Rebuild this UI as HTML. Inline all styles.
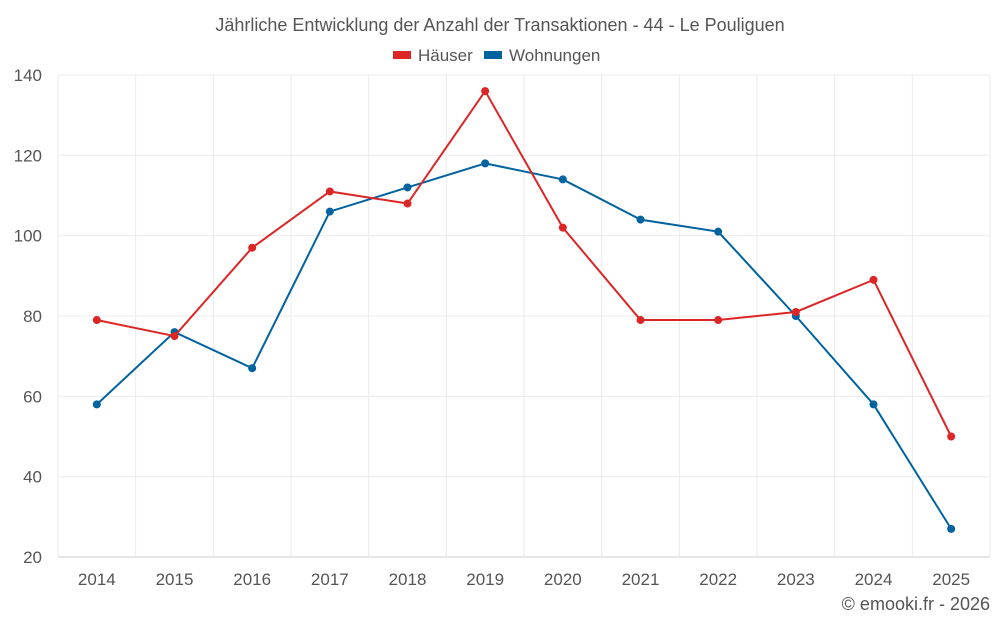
<!DOCTYPE html>
<html><head><meta charset="utf-8"><style>
html,body{margin:0;padding:0;background:#fff;}
svg{display:block;font-family:"Liberation Sans",sans-serif;}
</style></head><body>
<svg id="chart" width="1000" height="625">
<text x="500" y="31" text-anchor="middle" font-size="18" fill="#555">Jährliche Entwicklung der Anzahl der Transaktionen - 44 - Le Pouliguen</text>
<g>
<g><rect x="393" y="51" width="18" height="8" fill="#dc2626"/><text x="418" y="61" font-size="17" fill="#555">Häuser</text></g>
<g><rect x="484" y="51" width="18" height="8" fill="#0063a0"/><text x="509" y="61" font-size="17" fill="#555">Wohnungen</text></g>
</g>
<g id="grid"></g><g id="axes"></g><g id="series"></g>
<text x="990" y="610" text-anchor="end" font-size="18" fill="#555">© emooki.fr - 2026</text>
</svg>
<script>
const years=["2014","2015","2016","2017","2018","2019","2020","2021","2022","2023","2024","2025"];
const haeuser=[79,75,97,111,108,136,102,79,79,81,89,50];
const wohnungen=[58,76,67,106,112,118,114,104,101,80,58,27];
const yTicks=[20,40,60,80,100,120,140];
const L=58,R=990,T=75,B=557,yMin=20,yMax=140;
const band=(R-L)/years.length;
const x=i=>L+band*(i+0.5);
const y=v=>B-(v-yMin)/(yMax-yMin)*(B-T);
const NS="http://www.w3.org/2000/svg";
function mk(t,a,p){const e=document.createElementNS(NS,t);for(const k in a)e.setAttribute(k,a[k]);p.appendChild(e);return e;}
const g=document.getElementById('grid'),ax=document.getElementById('axes'),s=document.getElementById('series');
yTicks.forEach(v=>{
 const l=mk('line',{x1:L,x2:R,y1:y(v),y2:y(v),stroke:v===yMin?'#ccc':'#ebebeb','stroke-width':1},g);
 
 
 const t=mk('text',{x:L-16,y:y(v)+6,'text-anchor':'end','font-size':17,fill:'#555'},ax);t.textContent=v;
 
 
});
for(let i=0;i<=years.length;i++){
 const l=mk('line',{x1:L+band*i,x2:L+band*i,y1:T,y2:B,stroke:'#ebebeb'},g);
 
 
}
years.forEach((yr,i)=>{
 const t=mk('text',{x:x(i),y:585,'text-anchor':'middle','font-size':17,fill:'#555'},ax);t.textContent=yr;
 
 
});
function series(data,color,name){
 const p=mk('polyline',{points:data.map((v,i)=>x(i)+','+y(v)).join(' '),fill:'none',stroke:color,'stroke-width':2},s);
 
 
 data.forEach((v,i)=>{
  const c=mk('circle',{cx:x(i),cy:y(v),r:4,fill:color},s);
  
  
 });
}
series(wohnungen,'#0063a0','wohnungen');
series(haeuser,'#dc2626','haeuser');
</script>
</body></html>
